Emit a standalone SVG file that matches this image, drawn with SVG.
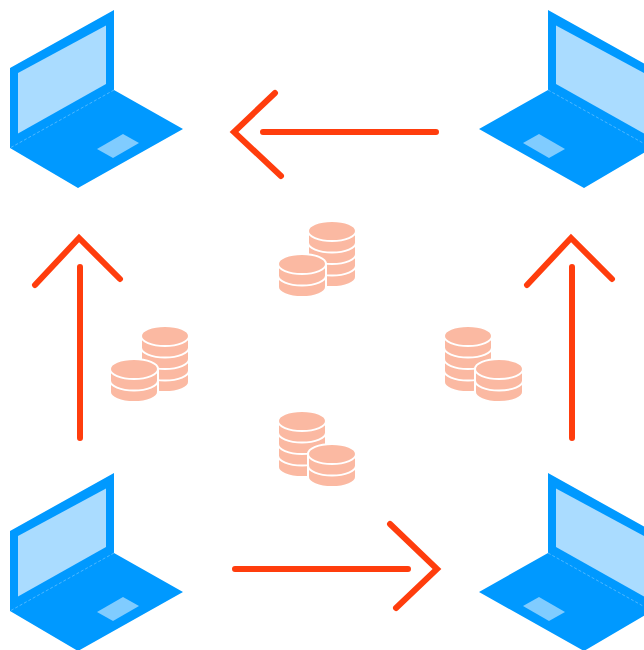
<svg xmlns="http://www.w3.org/2000/svg" width="644" height="650" viewBox="0 0 644 650">
<style>
.body{fill:#0099ff}.screen{fill:#aadcff}.pad{fill:#80ccff}.hinge{stroke:#80ccff;stroke-width:1;stroke-dasharray:3 2;fill:none;opacity:.6}
.arrow{fill:none;stroke:#ff3d0d;stroke-width:6;stroke-linecap:round;stroke-linejoin:miter}
.coin{fill:#fbb9a2;stroke:#fff;stroke-width:2}
</style>
<defs>
<g id="laptop">
<path class="body" d="M114 10V90L183 129L78 188L10 148V68Z"/>
<path class="screen" d="M106 25.500V84L18 133.500V73Z"/>
<path class="hinge" d="M114 90L10 148"/>
<path class="pad" d="M123 134L139 143L113 158L97 149Z"/>
</g>
<path id="band" class="coin" d="M-24 -11.500V0A24 10 0 0 0 24 0V-11.500Z"/>
<g id="big">
<use href="#band" y="46"/><use href="#band" y="34.500"/><use href="#band" y="23"/><use href="#band" y="11.500"/>
<ellipse class="coin" cx="0" cy="0" rx="24" ry="10"/>
</g>
<g id="small">
<use href="#band" y="23"/><use href="#band" y="11.500"/>
<ellipse class="coin" cx="0" cy="0" rx="24" ry="10"/>
</g>
</defs>
<g id="laptop-top-left"><use href="#laptop"/></g>
<g id="laptop-top-right"><use href="#laptop" transform="translate(662 0) scale(-1 1)"/></g>
<g id="laptop-bottom-left"><use href="#laptop" y="463"/></g>
<g id="laptop-bottom-right"><use href="#laptop" transform="translate(662 463) scale(-1 1)"/></g>
<g id="coins-top"><use href="#big" x="332" y="231"/><use href="#small" x="302" y="264"/></g>
<g id="coins-left"><use href="#big" x="165" y="336"/><use href="#small" x="134" y="369"/></g>
<g id="coins-right"><use href="#big" x="468" y="336"/><use href="#small" x="499" y="369"/></g>
<g id="coins-bottom"><use href="#big" x="302" y="421"/><use href="#small" x="332" y="454"/></g>
<g id="connectors">
<path class="arrow" d="M80 267V438M35 285L79 238L120 279"/>
<path class="arrow" d="M263 132H436M275 93L234 132L281 176"/>
<path class="arrow" d="M572 267V438M527 285L571 238L612 279"/>
<path class="arrow" d="M235 569H408M390 524L437 569L396 608"/>
</g>
</svg>
